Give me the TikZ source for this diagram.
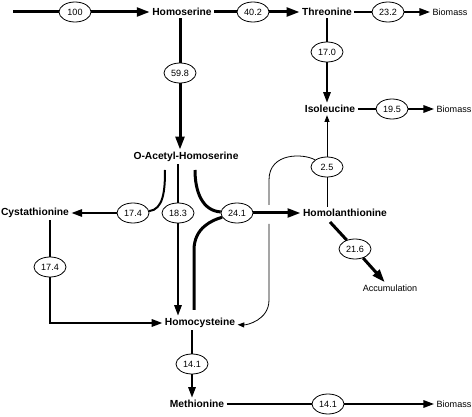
\documentclass[tikz,border=0pt]{standalone}
\usepackage{fontspec}
\setmainfont{Liberation Sans}
\usetikzlibrary{arrows.meta,shapes.geometric}

\tikzset{every picture/.style={line width=0.75pt}}
\tikzset{
  metab/.style={inner sep=1.5pt, font=\fontsize{7.7}{9}\selectfont\bfseries},
  sink/.style={inner sep=1.5pt, font=\fontsize{6.8}{8}\selectfont},
  flux/.style={draw, ellipse, line width=0.6pt, minimum width=24pt, minimum height=15pt, inner sep=0pt, fill=white, font=\fontsize{6.8}{8}\selectfont},
  major/.style={line width=2.25pt},
  minor/.style={line width=1.5pt},
  faint/.style={line width=0.6pt},
  bigtip/.style={-{Triangle[length=9.75pt,width=6.5pt]}},
  midtip/.style={-{Triangle[length=8pt,width=5.5pt]}},
  smalltip/.style={-{Triangle[length=5pt,width=3.75pt]}},
}

\begin{document}
\begin{tikzpicture}[x=0.75pt,y=0.75pt,yscale=-1,xscale=1]
    \useasboundingbox (0,0) rectangle (472,417);

    % Text Node
    \node[metab] (hser) at (182,12) {Homoserine};
    % Text Node
    \node[metab] (thr) at (327,12) {Threonine};
    % Text Node
    \node[sink] (bio1) at (450,12) {Biomass};
    % Text Node
    \node[metab] (ile) at (330,109) {Isoleucine};
    % Text Node
    \node[sink] (bio2) at (454,109) {Biomass};
    % Text Node
    \node[metab] (oah) at (186,157) {O-Acetyl-Homoserine};
    % Text Node
    \node[metab] (cys) at (35,213) {Cystathionine};
    % Text Node
    \node[metab] (hlan) at (345,213) {Homolanthionine};
    % Text Node
    \node[sink] (acc) at (390,288) {Accumulation};
    % Text Node
    \node[metab] (hcys) at (200,323) {Homocysteine};
    % Text Node
    \node[metab] (met) at (197,404) {Methionine};
    % Text Node
    \node[sink] (bio3) at (454,404) {Biomass};

    %Shape: Ellipse (fluxes)
    \node[flux] (f100) at (75,12) {100};
    \node[flux] (f402) at (253,12) {40.2};
    \node[flux] (f232) at (388,12) {23.2};
    \node[flux] (f598) at (180,73) {59.8};
    \node[flux] (f170) at (327,52) {17.0};
    \node[flux] (f195) at (392,109) {19.5};
    \node[flux] (f25) at (327,167) {2.5};
    \node[flux] (f174a) at (133,213) {17.4};
    \node[flux] (f183) at (178,213) {18.3};
    \node[flux] (f241) at (237,213) {24.1};
    \node[flux] (f174b) at (50,267) {17.4};
    \node[flux] (f216) at (355,249) {21.6};
    \node[flux] (f141a) at (192,364) {14.1};
    \node[flux] (f141b) at (328,404) {14.1};

    % free ends and bends
    \coordinate (src) at (13,12);
    \coordinate (oahL) at (165,170);
    \coordinate (oahR) at (195,170);
    \coordinate (hcysT) at (194,310);
    \coordinate (hcysB) at (194,250);
    \coordinate (hlanS) at (330,222);
    \coordinate (bendT) at (269,180);
    \coordinate (bendA) at (269,205);
    \coordinate (bendB) at (269,224);
    \coordinate (bendC) at (269,300);

    %Straight Lines: threonine branch
    \draw[major] (src) -- (f100);
    \draw[major,bigtip] (f100) -- (hser);
    \draw[major] (hser) -- (f402);
    \draw[major,bigtip] (f402) -- (thr);
    \draw[minor] (thr) -- (f232);
    \draw[minor,midtip] (f232) -- (bio1);
    \draw[minor] (f170 |- thr.south) -- (f170);
    \draw[minor,midtip] (f170) -- (f170 |- ile.north);
    \draw[minor] (ile) -- (f195);
    \draw[minor,midtip] (f195) -- (bio2);

    %Straight Lines: methionine branch
    \draw[major] (f598 |- hser.south) -- (f598);
    \draw[major,bigtip] (f598) -- (f598 |- oah.north);
    \draw[minor] (oahL) to[out=90,in=-30] (f174a);
    \draw[minor,midtip] (f174a) -- (cys);
    \draw[minor] (f183 |- oah.south) -- (f183);
    \draw[minor,midtip] (f183) -- (f183 |- hcys.north);
    \draw[major] (oahR) to[out=90,in=-160] (f241);
    \draw[major] (hcysT) -- (hcysB) to[out=-90,in=135] (f241);
    \draw[major,bigtip] (f241) -- (hlan);
    \draw[minor] (f174b |- cys.south) -- (f174b);
    \draw[minor,midtip] (f174b) |- (hcys);
    \draw[minor] (f141a |- hcys.south) -- (f141a);
    \draw[minor,midtip] (f141a) -- (f141a |- met.north);
    \draw[minor] (met) -- (f141b);
    \draw[minor,midtip] (f141b) -- (bio3);
    \draw[major] (hlanS) -- (f216);
    \draw[major,bigtip] (f216) -- (acc);

    %Curve Lines: homolanthionine cleavage
    \draw[faint] (f25 |- hlan.north) -- (f25);
    \draw[faint,smalltip] (f25) -- (f25 |- ile.south);
    \draw[faint] (f25) to[out=-125,in=-90,looseness=1.4] (bendT) -- (bendA);
    \draw[faint,smalltip] (bendB) -- (bendC) to[out=90,in=-15] (hcys);
\end{tikzpicture}
\end{document}
